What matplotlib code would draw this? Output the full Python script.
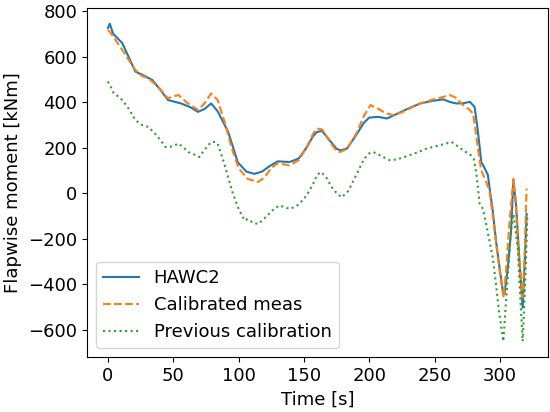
import matplotlib
matplotlib.use('Agg')
import matplotlib.pyplot as plt

# values
t_hawc2 = [0, 1.5, 4, 11, 21, 28, 34, 40, 46, 56, 63, 69, 74, 79, 84, 92, 99.5,
           106, 112, 118, 124, 130, 139, 146, 152, 157, 160, 164, 170, 175, 178,
           183, 190, 196, 200, 207, 213.5, 220, 230, 239, 248, 256.6, 262,
           266.7, 272, 277, 280.6, 282.5, 284.5, 285.7, 287, 290.8, 292, 294.5,
           297, 300, 302.2, 303.4, 306, 308.5, 310.3, 312.3, 315, 317.4, 319,
           320.4]
m_hawc2 = [725, 744, 700, 659, 534, 515, 497, 455, 409, 394, 378, 357, 370, 394,
           360, 270, 135, 95, 85, 95, 120, 140, 137, 152, 200, 250, 269, 273,
           230, 195, 188, 196, 255, 310, 332, 335, 328, 345, 372, 394, 405, 412,
           400, 394, 395, 401, 379, 300, 203, 135, 125, 80, 26, -76, -209, -340,
           -429, -444, -330, -165, 56, -47, -300, -503, -300, -91]

t_meas = [0, 2, 5, 11, 21, 26, 31, 38, 46, 50, 54, 60, 69, 74, 79, 84, 90, 94.5,
          100, 107, 115, 120, 125, 130, 139, 146, 152, 157, 160, 164, 170, 175,
          178, 183, 190, 196, 201, 207, 213, 218.5, 225, 232, 239, 248, 255,
          261.6, 266, 271.8, 276, 279.4, 281, 283, 285.7, 288, 292, 295, 298.4,
          302.8, 305, 307, 310.3, 311.8, 314, 317.4, 319, 320.4]
m_meas = [717, 705, 680, 629, 541, 515, 504, 470, 416, 425, 431, 400, 365, 395,
          438, 409, 300, 203, 110, 63, 49, 70, 110, 132, 122, 145, 200, 260,
          284, 280, 225, 185, 181, 195, 260, 340, 387, 370, 350, 343, 355, 375,
          394, 410, 420, 431, 420, 387, 370, 350, 290, 203, 100, 70, 12, -120,
          -282, -458, -320, -150, 63, -17, -250, -458, -250, 20]

t_prev = [0, 2, 4.5, 8, 11, 16, 21, 26, 31, 36, 40, 44, 49, 54, 58, 61.5, 66,
          70, 74, 79, 82, 84, 88, 92, 95, 99.5, 104.6, 107, 111, 115, 118, 122,
          126, 131, 135, 139, 143, 146.5, 152, 157, 160, 163, 167, 172, 176,
          179, 184, 190, 196, 200, 203, 207, 212, 216, 222, 230, 237, 244, 250,
          257, 263, 266.7, 272, 278, 280, 282, 284.5, 287, 290, 294.5, 297,
          299.6, 302.6, 305.2, 308.5, 310.3, 313.6, 315.5, 317.4, 319.9, 321]
m_prev = [490, 470, 438, 425, 409, 370, 321, 300, 291, 262, 235, 203, 205, 218,
          200, 181, 170, 159, 190, 225, 225, 218, 150, 70, 10, -62, -120, -113,
          -130, -135, -120, -98, -75, -54, -60, -69, -60, -47, -10, 40, 80, 93,
          70, 20, -5, -18, 10, 80, 150, 175, 181, 170, 155, 144, 150, 165, 180,
          196, 205, 215, 225, 210, 188, 166, 150, 85, -47, -69, -150, -282,
          -400, -532, -650, -429, -165, -91, -238, -450, -650, -311, -91]

plt.rcParams['font.size'] = 13
fig = plt.figure(figsize=(5.5, 4.12), dpi=100)
ax = fig.add_subplot(111)
ax.plot(t_hawc2, m_hawc2, '-', label='HAWC2')
ax.plot(t_meas, m_meas, '--', label='Calibrated meas')
ax.plot(t_prev, m_prev, ':', label='Previous calibration')
ax.set_xlabel('Time [s]')
ax.set_ylabel('Flapwise moment [kNm]')
ax.legend(loc='lower left')
fig.subplots_adjust(left=0.158, right=0.997, top=0.981, bottom=0.133)
fig.savefig('out.png')
